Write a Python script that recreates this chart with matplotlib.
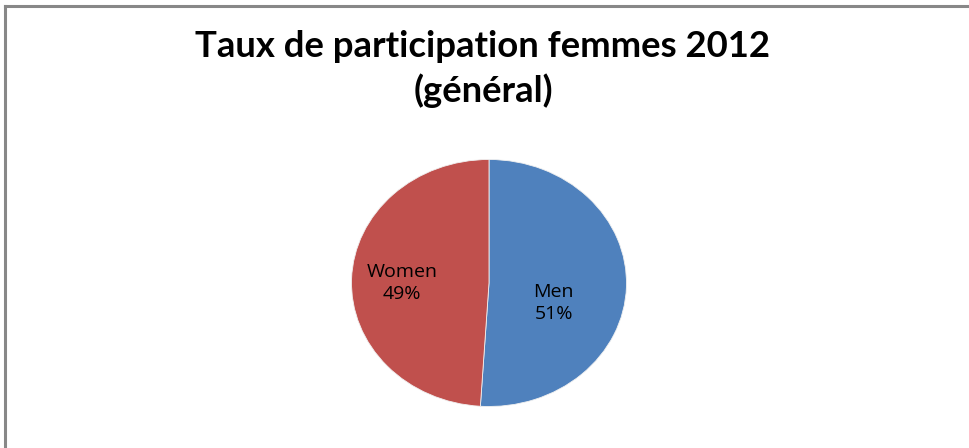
import matplotlib
matplotlib.use('Agg')
import matplotlib.pyplot as plt
from matplotlib.lines import Line2D

# data
categories = ['Men', 'Women']
shares = [51, 49]
colors = ['#4F81BD', '#C0504D']
title = 'Taux de participation femmes 2012\n(général)'

fig = plt.figure(figsize=(9.7, 4.48), dpi=100)
fig.patch.set_facecolor('white')

# gray frame on top and left edges (chart area cropped at right/bottom)
fig.add_artist(Line2D([5.5/970, 5.5/970], [0, 1 - 6.5/448], transform=fig.transFigure,
                      color='#888888', lw=2.2))
fig.add_artist(Line2D([5.5/970, 1], [1 - 6.5/448, 1 - 6.5/448], transform=fig.transFigure,
                      color='#888888', lw=2.2))

fig.text(483/970, 1 - 69/448, title, ha='center', va='center', fontsize=26.3,
         fontweight='bold', family='Lato', linespacing=1.33)

# elliptical pie: axes box sized to the ellipse
ax = fig.add_axes([351.5/970, 41.5/448, 275/970, 247/448])
wedges, texts = ax.pie(shares, labels=[f'{c}\n{v}%' for c, v in zip(categories, shares)],
                       colors=colors, startangle=90, counterclock=False,
                       labeldistance=0.5,
                       wedgeprops=dict(edgecolor='#f0f0f0', linewidth=0.6),
                       textprops=dict(fontsize=14, family='Open Sans', ha='center',
                                      va='center', linespacing=1.3))
ax.set_aspect('auto')
ax.set_xlim(-1, 1)
ax.set_ylim(-1, 1)

label_pos = {'Men': (0.47, -0.16), 'Women': (-0.63, 0.0)}
for t, c in zip(texts, categories):
    t.set_position(label_pos[c])

fig.savefig('out.png', dpi=100)
